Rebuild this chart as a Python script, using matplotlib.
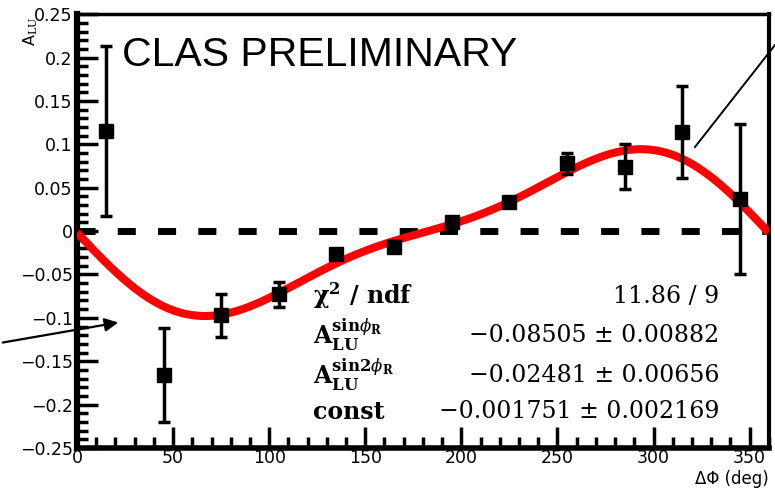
"""Beam-spin asymmetry A_LU versus delta-phi with sin/sin2 fit."""

import matplotlib
import numpy as np

matplotlib.use("Agg")
import matplotlib.pyplot as plt
from matplotlib.ticker import MultipleLocator

plt.rcParams["mathtext.fontset"] = "dejavuserif"

# binned asymmetry
dphi = [15, 45, 75, 105, 135, 165, 195, 225, 255, 285, 315, 345]
alu = [0.115, -0.166, -0.097, -0.073, -0.027, -0.018, 0.011, 0.034, 0.078, 0.074, 0.114, 0.037]
alu_err = [0.098, 0.054, 0.025, 0.014, 0.004, 0.006, 0.004, 0.004, 0.012, 0.026, 0.053, 0.086]

# fit parameters: const + A sin(phi) + B sin(2 phi)
p_sin = -0.08505
p_sin2 = -0.02481
p_const = -0.001751

stat_labels = [
    r"$\mathbf{\chi}^{\mathbf{2}}$ / ndf",
    r"$\mathbf{A}_{\mathbf{LU}}^{\mathbf{sin}\phi_{\mathbf{R}}}$",
    r"$\mathbf{A}_{\mathbf{LU}}^{\mathbf{sin2}\phi_{\mathbf{R}}}$",
    "const",
]
stat_values = ["11.86 / 9", "\u22120.08505 \u00b1 0.00882",
               "\u22120.02481 \u00b1 0.00656", "\u22120.001751 \u00b1 0.002169"]

fig = plt.figure(figsize=(7.75, 4.88), dpi=100)
ax = fig.add_axes([0.0994, 0.082, 0.8926, 0.889])

ax.set_xlim(0, 360)
ax.set_ylim(-0.25, 0.25)

# zero reference
ax.axhline(0, color="black", lw=5, dashes=(2.6, 3.2), zorder=1)

phi = np.linspace(0, 360, 400)
rad = np.radians(phi)
fit = p_const + p_sin * np.sin(rad) + p_sin2 * np.sin(2 * rad)
ax.plot(phi, fit, color="#ff0000", lw=5.8, zorder=3, solid_capstyle="butt")

ax.errorbar(dphi, alu, yerr=alu_err, fmt="s", color="black", ms=10,
            elinewidth=2.5, capsize=4, capthick=2.5, zorder=4)

# ROOT-like frame
for side, lw in [("left", 4.5), ("bottom", 4), ("top", 2.5), ("right", 3)]:
    ax.spines[side].set_linewidth(lw)
ax.xaxis.set_major_locator(MultipleLocator(50))
ax.xaxis.set_minor_locator(MultipleLocator(10))
ax.yaxis.set_major_locator(MultipleLocator(0.05))
ax.yaxis.set_minor_locator(MultipleLocator(0.01))
ax.tick_params(which="both", direction="in", top=False, right=False, labelsize=12.5)
ax.tick_params(axis="x", pad=1)
ax.tick_params(axis="y", pad=3)
ax.tick_params(which="major", length=15, width=2.5)
ax.tick_params(which="minor", length=8, width=2.5)
ax.xaxis.set_major_formatter(plt.FuncFormatter(lambda v, _: f"{v:g}"))
ax.yaxis.set_major_formatter(plt.FuncFormatter(
    lambda v, _: "0" if abs(v) < 1e-9 else f"{v:g}".replace("-", "\u2212")))

fig.text(0.040, 0.935, "A$_{\\rm LU}$", rotation=90, fontsize=11.5,
         ha="center", va="center")
fig.text(0.992, 0.001, "\u0394\u03a6 (deg)", fontsize=12, ha="right", va="bottom")

ax.text(0.065, 0.905, "CLAS PRELIMINARY", transform=ax.transAxes, fontsize=29.5,
        family="Liberation Sans", va="center", ha="left")

# fit statistics
row_y = [0.350, 0.260, 0.168, 0.083]
for lab, val, yy in zip(stat_labels, stat_values, row_y):
    ax.text(0.341, yy, lab, transform=ax.transAxes, fontsize=17,
            family="DejaVu Serif", fontweight="bold", va="center", ha="left", zorder=5)
    ax.text(0.929, yy, val, transform=ax.transAxes, fontsize=17,
            family="DejaVu Serif", va="center", ha="right", zorder=5)

# pointer lines
fig.add_artist(matplotlib.patches.FancyArrowPatch(
    (0.0, 1 - 343 / 488), (121 / 775, 1 - 322 / 488), transform=fig.transFigure,
    arrowstyle="-|>", mutation_scale=20, lw=1.6, color="black"))
fig.add_artist(matplotlib.lines.Line2D(
    [775 / 775, 695 / 775], [1 - 45 / 488, 1 - 147 / 488], transform=fig.transFigure,
    lw=1.4, color="black"))

fig.savefig("out.png", dpi=100)
